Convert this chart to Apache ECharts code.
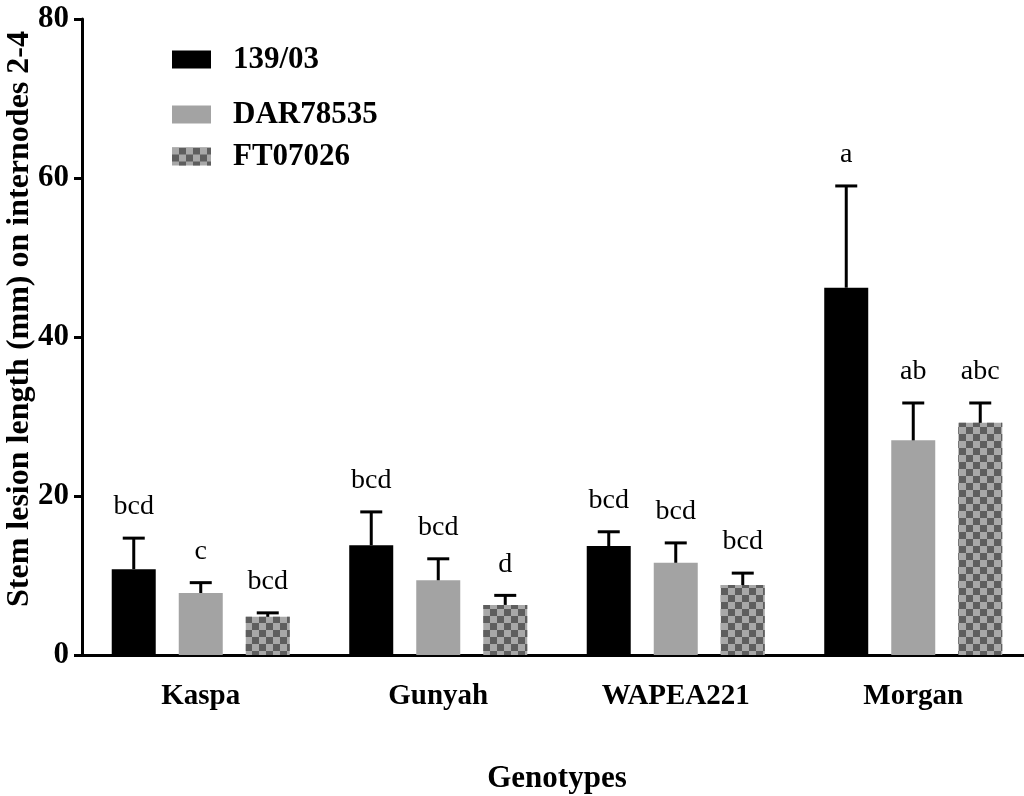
<!DOCTYPE html>
<html>
<head>
<meta charset="utf-8">
<script src="https://cdn.jsdelivr.net/npm/echarts@6/dist/echarts.min.js"></script>
<style>
  html, body { margin: 0; padding: 0; background: #fff; }
  #chart { width: 1024px; height: 796px; }
</style>
</head>
<body>
<div id="chart"></div>
<script>
// data
const genotypes = ['Kaspa', 'Gunyah', 'WAPEA221', 'Morgan'];
const seriesNames = ['139/03', 'DAR78535', 'FT07026'];

const mean139 = [10.8, 13.8, 13.7, 46.2];
const err139 = [3.9, 4.2, 1.8, 12.8];
const letters139 = ['bcd', 'bcd', 'bcd', 'a'];

const meanDAR = [7.8, 9.4, 11.6, 27.0];
const errDAR = [1.3, 2.7, 2.5, 4.7];
const lettersDAR = ['c', 'bcd', 'bcd', 'ab'];

const meanFT = [4.8, 6.3, 8.8, 29.2];
const errFT = [0.5, 1.2, 1.5, 2.5];
const lettersFT = ['bcd', 'd', 'bcd', 'abc'];

const yTicks = { min: 0, max: 80, interval: 20 };

const FONT = '"Liberation Serif", "Times New Roman", serif';
const BAR_W = 44;
const BAR_STEP = 67;
const LETTER_GAP = 31;

// rows for the error bar / letter layer
const means = [mean139, meanDAR, meanFT];
const errs = [err139, errDAR, errFT];
const letters = [letters139, lettersDAR, lettersFT];
const errRows = [];
genotypes.forEach((g, c) => {
  for (let s = 0; s < 3; s++) {
    errRows.push([c, s, means[s][c], errs[s][c], letters[s][c]]);
  }
});

const chart = echarts.init(document.getElementById('chart'));

function renderErr(params, api) {
  const cat = api.value(0);
  const s = api.value(1);
  const m = api.value(2);
  const e = api.value(3);
  const letter = errRows[params.dataIndex][4];
  const base = api.coord([cat, m]);
  const top = api.coord([cat, m + e]);
  const x = base[0] + (s - 1) * BAR_STEP;
  return {
    type: 'group',
    children: [
      { type: 'line', shape: { x1: x, y1: base[1], x2: x, y2: top[1] }, style: { stroke: '#000', lineWidth: 3 } },
      { type: 'line', shape: { x1: x - 11, y1: top[1], x2: x + 11, y2: top[1] }, style: { stroke: '#000', lineWidth: 3 } },
      {
        type: 'text', x: x, y: top[1] - LETTER_GAP,
        style: { text: letter, align: 'center', verticalAlign: 'middle', fontSize: 28, fontFamily: FONT, fill: '#000' }
      }
    ]
  };
}

const checker = {
  symbol: 'rect',
  symbolSize: 1,
  color: '#5e5e5e',
  dashArrayX: [[7, 7], [0, 7, 7, 0]],
  dashArrayY: [7, 0]
};

const legendBase = {
  left: 172,
  padding: 0,
  icon: 'rect',
  itemWidth: 39,
  itemHeight: 18,
  textStyle: { fontFamily: FONT, fontWeight: 'bold', fontSize: 31, color: '#000', padding: [0, 0, 0, 17] }
};

chart.setOption({
  animation: false,
  backgroundColor: '#fff',
  legend: [
    Object.assign({}, legendBase, { top: 44, data: [seriesNames[0]] }),
    Object.assign({}, legendBase, { top: 99, data: [seriesNames[1]] }),
    Object.assign({}, legendBase, { top: 141, data: [seriesNames[2]] })
  ],
  grid: { left: 82, right: -8, top: 19, bottom: 141, containLabel: false, outerBoundsMode: 'none' },
  xAxis: {
    type: 'category',
    data: genotypes,
    name: 'Genotypes',
    nameLocation: 'middle',
    nameGap: 108,
    nameMoveOverlap: false,
    nameTextStyle: { fontFamily: FONT, fontWeight: 'bold', fontSize: 31, color: '#000' },
    axisLine: { lineStyle: { color: '#000', width: 3 } },
    axisTick: { alignWithLabel: true, length: 9, lineStyle: { color: '#000', width: 3 } },
    axisLabel: { margin: 27, fontFamily: FONT, fontWeight: 'bold', fontSize: 29, color: '#000' }
  },
  yAxis: {
    type: 'value',
    min: yTicks.min,
    max: yTicks.max,
    interval: yTicks.interval,
    name: 'Stem lesion length (mm) on internodes 2-4',
    nameLocation: 'middle',
    nameGap: 46,
    nameMoveOverlap: false,
    nameTextStyle: { fontFamily: FONT, fontWeight: 'bold', fontSize: 32, color: '#000', padding: [0, 0, 0, 36] },
    splitLine: { show: false },
    axisLine: { show: true, lineStyle: { color: '#000', width: 3 } },
    axisTick: { show: true, length: 8, lineStyle: { color: '#000', width: 3 } },
    axisLabel: { margin: 13, fontFamily: FONT, fontWeight: 'bold', fontSize: 31, color: '#000' }
  },
  series: [
    { name: seriesNames[0], type: 'bar', data: mean139, barWidth: BAR_W, barGap: '52.3%', itemStyle: { color: '#000' } },
    { name: seriesNames[1], type: 'bar', data: meanDAR, barWidth: BAR_W, barGap: '52.3%', itemStyle: { color: '#a3a3a3' } },
    { name: seriesNames[2], type: 'bar', data: meanFT, barWidth: BAR_W, barGap: '52.3%', itemStyle: { color: '#a8a8a8', decal: checker } },
    {
      type: 'custom',
      data: errRows,
      encode: { x: 0, y: 2 },
      renderItem: renderErr,
      z: 5,
      silent: true
    }
  ]
});
</script>
</body>
</html>
